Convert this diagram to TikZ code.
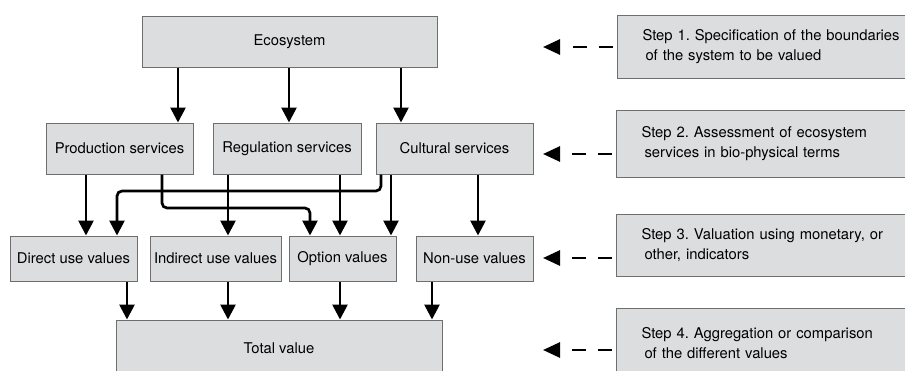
\documentclass[tikz,border=0pt]{standalone}
\usepackage{fontspec}
\setmainfont{TeX Gyre Heros}
\frenchspacing
\usetikzlibrary{arrows.meta}
\definecolor{evFill}{HTML}{DCDDDF}
\definecolor{evLine}{HTML}{6E6E6E}
\begin{document}
\begin{tikzpicture}[x=1pt,y=-1pt,
  box/.style={draw=evLine,fill=evFill,line width=1pt,inner sep=0pt,font=\fontsize{14.8}{20}\selectfont},
  stepbox/.style={box,anchor=north west,align=left,text width=290pt,inner xsep=25pt},
  arr/.style={line width=2.7pt,-{Triangle[width=15pt,length=15pt]}},
  steparrow/.style={line width=2.7pt,dash pattern=on 14pt off 12.5pt,shorten <=4pt,-{Triangle[width=15pt,length=17pt]}}]
\useasboundingbox (0,0) rectangle (905,370);
\clip (0,0) rectangle (905,370);
\node[box,minimum width=295pt,minimum height=51pt] (eco) at (289.5,41.5) {Ecosystem};
\node[box,minimum width=147pt,minimum height=51pt] (prod) at (119.5,148.5) {Production services};
\node[box,minimum width=148pt,minimum height=51pt] (reg) at (287,148.5) {Regulation services};
\node[box,minimum width=157pt,minimum height=51pt] (cult) at (454.5,148.5) {Cultural services};
\node[box,minimum width=127pt,minimum height=45pt] (dir) at (73.5,258.5) {Direct use values};
\node[box,minimum width=131pt,minimum height=45pt] (ind) at (215.5,258.5) {Indirect use values};
\node[box,minimum width=107pt,minimum height=45pt] (opt) at (342.5,258.5) {Option values};
\node[box,minimum width=117pt,minimum height=45pt] (non) at (474.5,258.5) {Non-use values};
\node[box,minimum width=326pt,minimum height=56pt] (tot) at (279,348) {Total value};
\node[stepbox,minimum height=63pt] (s1) at (617,15) {Step 1. Specification of the boundaries\\\hspace{3pt}of the system to be valued};
\node[stepbox,minimum height=67pt] (s2) at (616,110) {Step 2. Assessment of ecosystem\\\hspace{3pt}services in bio-physical terms};
\node[stepbox,minimum height=62pt] (s3) at (616,214) {Step 3. Valuation using monetary, or\\\hspace{3pt}other, indicators};
\node[stepbox,minimum height=70pt] (s4) at (616,308) {Step 4. Aggregation or comparison\\\hspace{3pt}of the different values};
\coordinate (p1) at (543,47);
\coordinate (p2) at (543,154);
\coordinate (p3) at (543,258);
\coordinate (p4) at (543,350);
\draw[arr] (eco.south -| 178,0) -- (prod.north -| 178,0);
\draw[arr] (eco.south -| 289,0) -- (reg.north -| 289,0);
\draw[arr] (eco.south -| 401,0) -- (cult.north -| 401,0);
\draw[arr] (prod.south -| 86,0) -- (dir.north -| 86,0);
\draw[arr,rounded corners=5pt] (prod.south -| 162,0) |- (310,208) -- (opt.north -| 310,0);
\draw[arr] (reg.south -| 228,0) -- (ind.north -| 228,0);
\draw[arr] (reg.south -| 340,0) -- (opt.north -| 340,0);
\draw[arr,rounded corners=5pt] (cult.south -| 381,0) |- (117,191) -- (dir.north -| 117,0);
\draw[arr] (cult.south -| 391,0) -- (opt.north -| 391,0);
\draw[arr] (cult.south -| 478,0) -- (non.north -| 478,0);
\draw[arr] (dir.south -| 127,0) -- (tot.north -| 127,0);
\draw[arr] (ind.south -| 228,0) -- (tot.north -| 228,0);
\draw[arr] (opt.south -| 340,0) -- (tot.north -| 340,0);
\draw[arr] (non.south -| 432,0) -- (tot.north -| 432,0);
\draw[steparrow] (s1.west |- p1) -- (p1);
\draw[steparrow] (s2.west |- p2) -- (p2);
\draw[steparrow] (s3.west |- p3) -- (p3);
\draw[steparrow] (s4.west |- p4) -- (p4);
\end{tikzpicture}
\end{document}
